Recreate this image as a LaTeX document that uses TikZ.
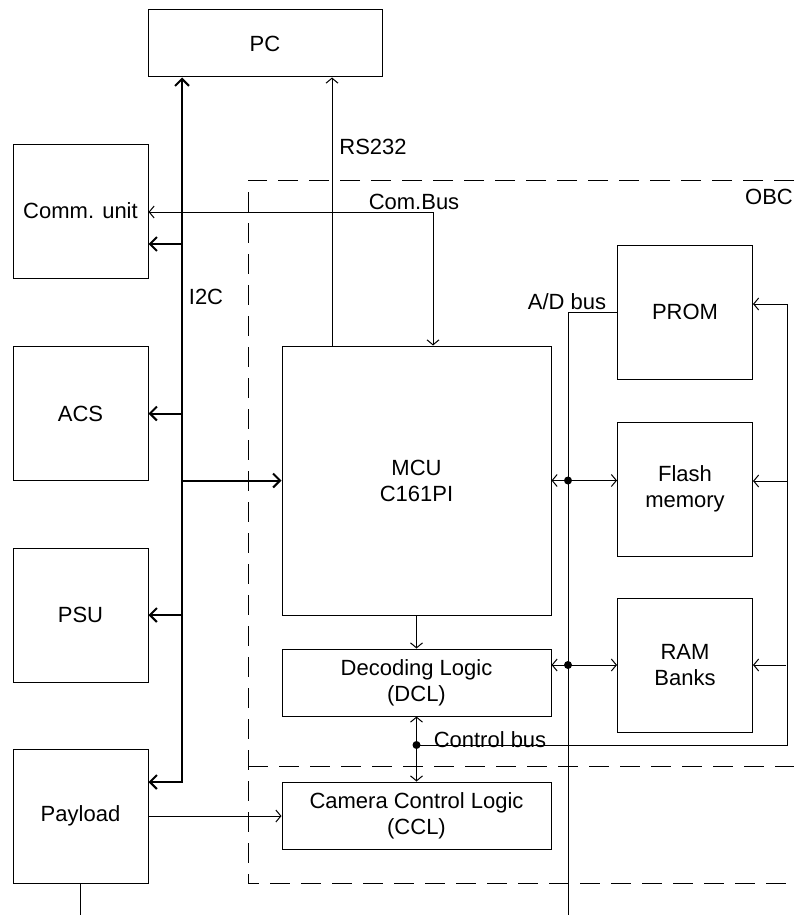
\documentclass[tikz,border=0pt]{standalone}
\usepackage{fontspec}
\setmainfont{Liberation Sans}
\usepackage{tikz}
\usetikzlibrary{arrows.meta,calc}

\begin{document}
\begin{tikzpicture}[x=0.5pt,y=-0.5pt,
  txt/.style={font=\fontsize{11}{13}\selectfont},
  blk/.style={draw, rectangle, line width=0.5pt, inner sep=0pt,
    minimum width=67.5pt, minimum height=67pt, align=center, txt},
  wide/.style={blk, minimum width=134.5pt, minimum height=33.5pt},
  lbl/.style={txt, inner sep=0pt},
  dot/.style={circle, fill, inner sep=0pt, minimum size=4pt},
  arr/.style={line width=0.5pt, -{Straight Barb[length=2.5pt,width=6pt]}},
  arrb/.style={line width=0.5pt, {Straight Barb[length=2.5pt,width=6pt]}-{Straight Barb[length=2.5pt,width=6pt]}},
  bus/.style={line width=1pt, -{Straight Barb[length=3.5pt,width=7pt]}},
  busb/.style={line width=1pt, {Straight Barb[length=3.5pt,width=7pt]}-{Straight Barb[length=3.5pt,width=7pt]}},
  obc/.style={line width=0.5pt, dash pattern=on 10pt off 5.5pt}]
  \useasboundingbox (0,0) rectangle (794,915);
  % OBC frame
  \draw[obc] (794,180) -- (248,180) -- (248,883) -- (794,883);
  \draw[obc] (248,766) -- (794,766);
  \node[lbl] (obclbl) at (769,197) {OBC};
  % left column
  \node[blk, minimum width=117pt, minimum height=33.5pt] (pc) at (265,43.5) {PC};
  \node[blk] (comm) at (80.5,211) {Comm. unit};
  \node[blk] (acs) at (80.5,413.5) {ACS};
  \node[blk] (psu) at (80.5,615) {PSU};
  \node[blk] (payload) at (80.5,816) {Payload};
  % OBC blocks
  \node[blk, minimum width=134.5pt, minimum height=134.5pt] (mcu) at (416.5,480.5) {MCU\\C161PI};
  \node[wide] (dcl) at (416.5,682.5) {Decoding Logic\\(DCL)};
  \node[wide] (ccl) at (416.5,815.5) {Camera Control Logic\\(CCL)};
  \node[blk] (prom) at (685,312) {PROM};
  \node[blk] (flash) at (685,489) {Flash\\memory};
  \node[blk] (ram) at (685,665) {RAM\\Banks};
  % bus points
  \coordinate (i2cbot) at (182,782);
  \coordinate (tcomm) at (182,244);
  \coordinate (rs) at (332,346);
  \coordinate (cbus) at (433,212);
  \coordinate (adbot) at (568,915);
  \coordinate (cbr) at (786,745);
  % I2C
  \draw[busb] (i2cbot -| payload.east) -- (i2cbot) -- (i2cbot |- pc.south);
  \draw[bus] (tcomm) -- (tcomm -| comm.east);
  \draw[bus] (i2cbot |- acs.east) -- (acs.east);
  \draw[bus] (i2cbot |- psu.east) -- (psu.east);
  \draw[bus] (i2cbot |- mcu.west) -- (mcu.west);
  \node[lbl] (i2clbl) at (206,297) {I2C};
  % RS232 and Com.Bus
  \draw[arr] (rs) -- (rs |- pc.south);
  \node[lbl] (rslbl) at (373,147) {RS232};
  \draw[arr] (cbus) -- (cbus -| comm.east);
  \draw[arr] (cbus) -- (cbus |- mcu.north);
  \node[lbl] (cblbl) at (414,202) {Com.Bus};
  % A/D bus
  \draw[line width=0.5pt] (prom.west) -| (adbot);
  \node[lbl] (adlbl) at (567,302) {A/D bus};
  \node[dot] (d1) at (adbot |- mcu.east) {};
  \node[dot] (d2) at (adbot |- ram.west) {};
  \draw[arrb] (mcu.east) -- (mcu.east -| flash.west);
  \draw[arrb] (ram.west -| dcl.east) -- (ram.west);
  % control bus
  \draw[arr] (mcu.south) -- (dcl.north);
  \draw[arrb] (dcl.south) -- (ccl.north);
  \node[dot] (d3) at (dcl.south |- cbr) {};
  \draw[arr] (d3.center) -| ($(prom.east)+(34,-8)$) -- ($(prom.east)+(0,-8)$);
  \draw[arr] ($(flash.east)+(34,-8)$) -- ($(flash.east)+(0,-8)$);
  \draw[arr] (ram.east -| cbr) -- (ram.east);
  \node[lbl] (ctlbl) at (490,740) {Control bus};
  % payload links
  \draw[arr] (payload.east) -- (payload.east -| ccl.west);
  \draw[line width=0.5pt] (payload.south) -- (payload.south |- adbot);
\end{tikzpicture}
\end{document}
